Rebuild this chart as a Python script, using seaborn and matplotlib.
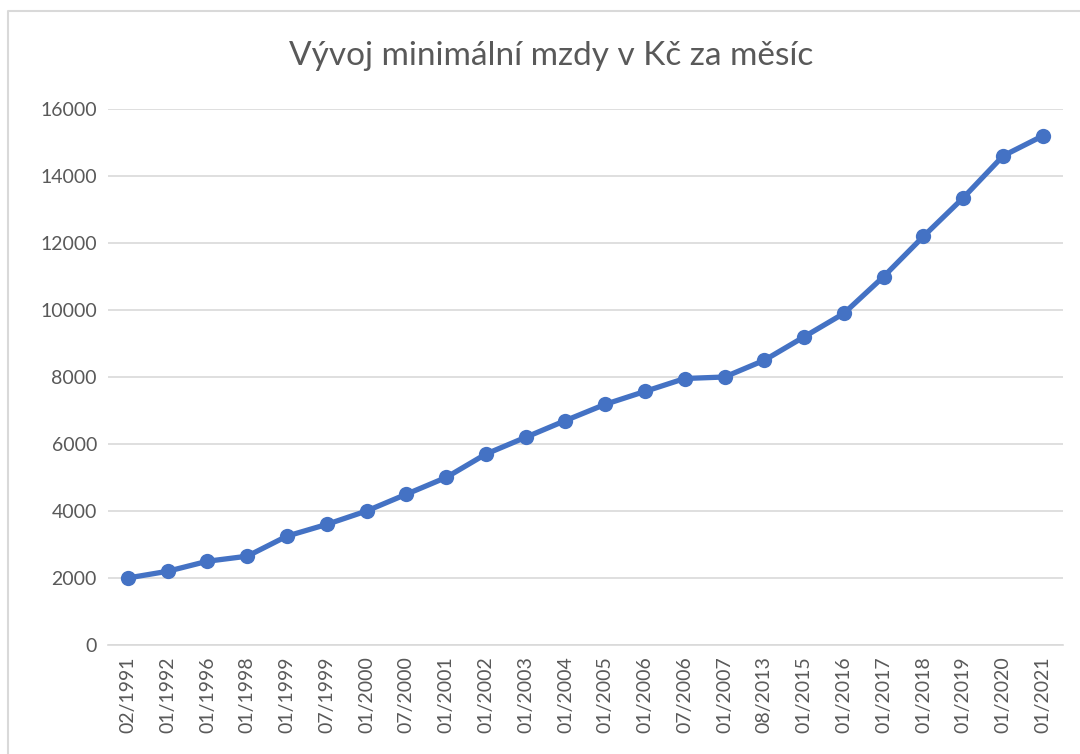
import matplotlib
matplotlib.use("Agg")
import matplotlib.pyplot as plt
import seaborn as sns
import pandas as pd
from matplotlib.lines import Line2D

# data
dates = ["02/1991", "01/1992", "01/1996", "01/1998", "01/1999", "07/1999",
         "01/2000", "07/2000", "01/2001", "01/2002", "01/2003", "01/2004",
         "01/2005", "01/2006", "07/2006", "01/2007", "08/2013", "01/2015",
         "01/2016", "01/2017", "01/2018", "01/2019", "01/2020", "01/2021"]
wages = [2000, 2200, 2500, 2650, 3250, 3600,
         4000, 4500, 5000, 5700, 6200, 6700,
         7185, 7570, 7955, 8000, 8500, 9200,
         9900, 11000, 12200, 13350, 14600, 15200]
y_ticks = [0, 2000, 4000, 6000, 8000, 10000, 12000, 14000, 16000]

df = pd.DataFrame({"datum": dates, "mzda": wages})

sns.set_theme(style="white")
plt.rcParams["font.family"] = ["Lato", "DejaVu Sans"]

grey = "#595959"
blue = "#4472C4"

fig = plt.figure(figsize=(10.8, 7.54), dpi=100)
ax = fig.add_axes([0.1, 0.1446, 0.884, 0.7108])

sns.lineplot(data=df, x="datum", y="mzda", sort=False, ax=ax, color=blue,
             linewidth=3.8, marker="o", markersize=11, markeredgewidth=0)

ax.set_xlim(-0.5, len(dates) - 0.5)
ax.set_ylim(0, 16000)
ax.set_yticks(y_ticks)
ax.set_yticklabels([str(v) for v in y_ticks], fontsize=14, color=grey)
ax.set_xticks(range(len(dates)))
ax.set_xticklabels(dates, rotation=90, fontsize=14, color=grey)
ax.tick_params(axis="both", length=0, pad=8)
ax.set_xlabel("")
ax.set_ylabel("")

ax.yaxis.grid(True, color="#d9d9d9", linewidth=1.2)
ax.set_axisbelow(True)
for side in ["top", "right", "left"]:
    ax.spines[side].set_visible(False)
ax.spines["bottom"].set_color("#d9d9d9")
ax.spines["bottom"].set_linewidth(1.2)

fig.suptitle("Vývoj minimální mzdy v Kč za měsíc", x=0.51, y=0.945, fontsize=24, color=grey)

# chart border (top and left edges visible in the crop)
fig.lines.append(Line2D([8 / 1080, 8 / 1080, 1.0], [0.0, 1 - 11 / 754, 1 - 11 / 754],
                        transform=fig.transFigure, color="#d9d9d9", linewidth=1.5))

fig.savefig("out.png", dpi=100)
